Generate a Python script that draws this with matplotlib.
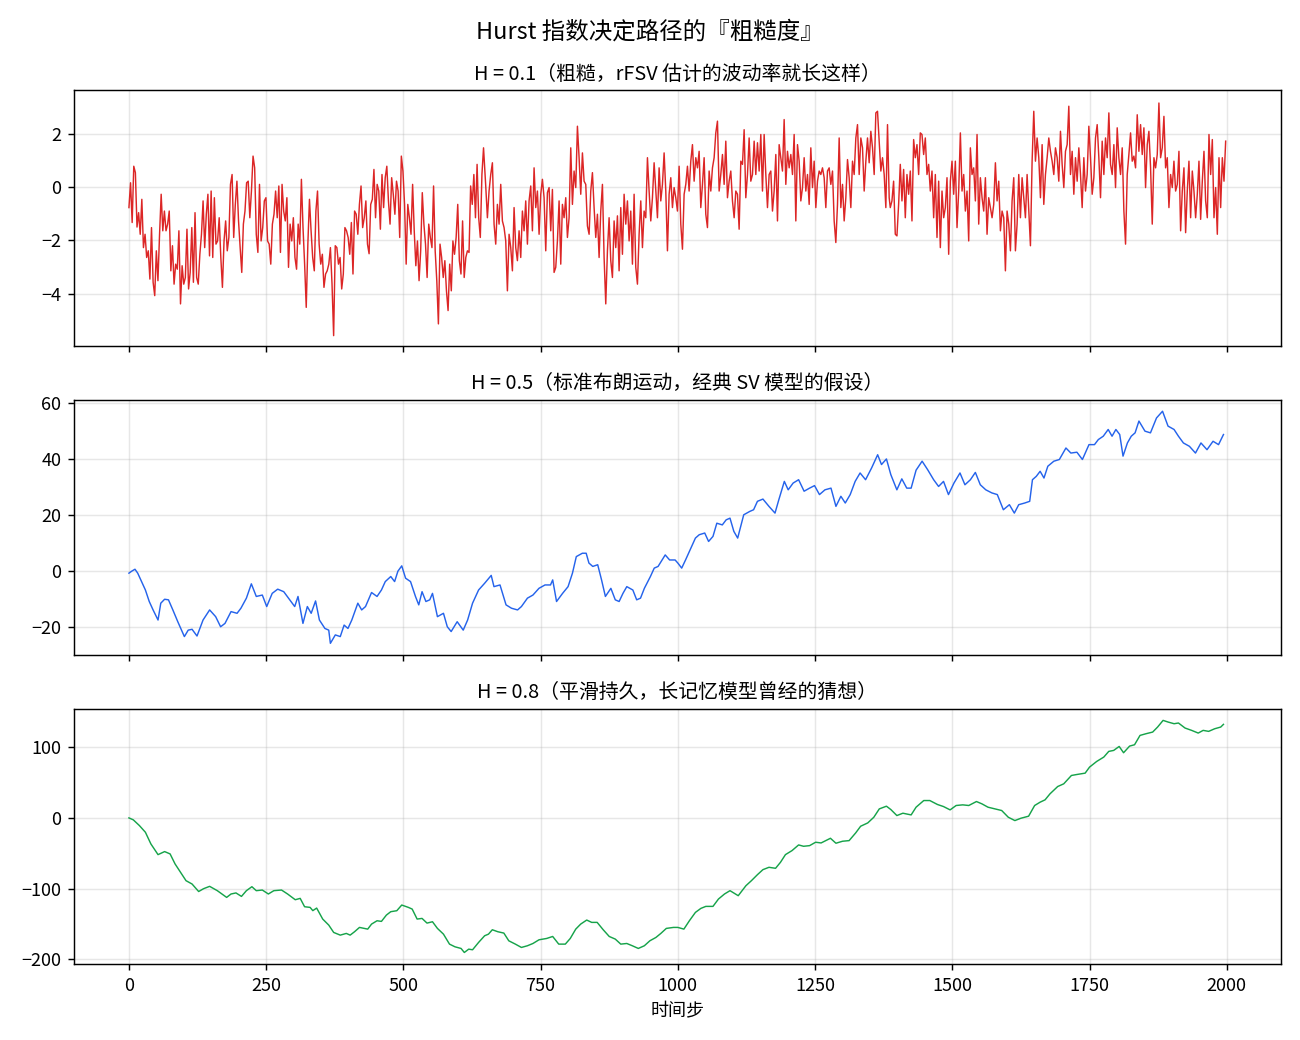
import numpy as np
import matplotlib
matplotlib.use("Agg")
import matplotlib.pyplot as plt

plt.rcParams['font.family'] = ['Noto Sans CJK SC', 'DejaVu Sans']

red_a = [-0.77, 0.16, -1.33, 0.78, 0.54, -1.5, -0.96, -1.77, -0.46, -2.27, -1.77, -2.64, -2.39, -3.45, -1.52,
         -3.57, -4.07, -2.39, -3.51, -1.77, -0.27, -1.64, -0.9, -1.64, -1.39, -0.9, -3.14, -2.2, -3.64, -2.89,
         -3.08, -1.64, -4.38, -2.95, -3.64, -3.39, -1.58, -3.82, -3.2, -1.52, -3.57, -0.96, -3.39, -3.64, -2.52,
         -1.77, -0.52, -2.27, -1.02, -0.27, -2.58, -0.15, -2.64, -0.4, -2.14, -2.02, -1.15, -2.64, -3.76, -2.02,
         -1.27, -2.39, -1.89, 0.1, 0.47, -1.89, -0.65, 0.22, -1.27, -2.27, -3.2, -1.39, -0.9, 0.16, 0.22, -1.15,
         -0.15, 1.16, 0.72, -1.77, -2.45, 0.1, -2.02, -1.52, -0.52, -0.4, -2.02, -2.14, -2.89, -1.39, -1.02,
         -0.15, -1.15, 0.04, -2.45, 0.1, -0.9, -1.27, -0.4, -3.01, -1.39, -2.02, -1.15, -2.64, -3.08, -1.39,
         -2.14, 0.29, -1.52, -2.89, -4.51, -2.14, -0.46, -1.64, -2.64, -3.14, -0.9, -0.15, -2.14, -2.89, -2.52,
         -3.76, -3.26, -3.14, -2.89, -2.27, -3.64, -5.57, -2.2, -2.27, -2.89, -2.64, -3.82, -3.26, -1.52, -1.64,
         -1.89, -2.52, -1.33, -3.26, -0.9, -1.02, -1.77, -0.65, 0.04, -1.52, -1.15, -0.52, -2.14, -2.5, -0.65,
         -0.46, 0.66, -1.15, 0.1, -0.15, -1.58, 0.47, -0.77, 0.35, 0.78, -0.52, -1.39, 0.35, -0.27, -1.02, 0.22,
         -0.15, -1.89, 1.16, 0.6, -0.65, -2.89, -0.65, -1.15, -1.77, 0.1, -1.64, -2.95, -2.02, -3.51, -2.39,
         -0.21, -1.39, -2.14, -3.39, -1.39, -1.89, -2.27, 0.04, -2.39, -3.51, -5.13, -2.14, -2.64, -3.39, -2.76,
         -3.89, -4.63, -2.89, -3.89, -2.02, -2.52, -1.89, -0.65, -2.76, -3.26, -1.27, -3.39, -2.64, -2.39, -2.45,
         0.04, -0.65, 0.47, -1.15, 0.85, -1.15, -1.89, 0.47, 1.47]
red_b = [0.04, -1.15, -0.15, 0.47, 0.91, -1.39, -2.14, -0.65, -1.39, 0.1, -1.27, -1.52, -2.02, -3.89, -1.77,
         -2.27, -3.14, -0.77, -2.27, -2.76, -1.64, -2.64, -0.9, -1.64, -0.52, -2.14, -0.52, 0.04, -1.64, 0.72,
         -0.77, -0.15, -1.77, -0.27, 0.29, -0.4, -2.39, -0.21, -0.02, -1.64, -0.09, -3.2, -3.01, -2.02, -0.52,
         -2.89, -0.65, -1.15, -0.4, -1.89, -1.15, 1.47, -0.65, 0.6, -0.02, 2.28, 1.1, -0.27, 1.28, 0.22, 0.1,
         -1.46, -1.77, -0.15, 0.54, -0.77, -1.89, -1.02, -2.64, -0.9, 0.1, -2.64, -4.38, -2.39, -1.15, -2.76,
         -3.39, -1.27, -2.27, -1.08, -3.14, -0.77, -2.52, -0.27, -1.39, -0.52, -2.02, -0.9, -2.89, -0.27, -3.01,
         -3.64, -1.77, -0.52, -2.27, -0.9, -1.15, 1.1, -0.15, -1.27, -0.4, 0.91, -0.15, -1.15, 0.72, -0.52, 0.1,
         1.28, -0.15, -2.39, -0.27, 0.35, -0.77, -0.02, -0.4, -0.9, 0.78, -1.39, -2.33, -0.27, 0.1, 0.78, -0.15,
         0.97, 1.59, 0.22, 1.1, 0.72, 1.34, -0.77, 0.1, 1.1, -1.02, -1.52, 0.6, -0.15, 0.72, 1.1, 2.03, 2.47,
         -0.15, 0.47, 1.22, 0.1, 1.72, -0.4, 0.22, 0.6, -0.52, -1.15, -0.15, -0.27, -1.58, 0.97, 0.85, 2.15,
         -0.4, 0.47, 1.84, 0.22, 0.47, 1.72, 0.47, 1.66, 0.6, 1.97, -0.15, 1.97, 0.47, -0.77, 0.47, 0.6, -0.9,
         -0.15, 1.22, -1.27, 1.59, 1.1, 0.6, 2.53, 0.1, 1.34, 0.72, 1.22, 0.47, 1.97, -1.27, 1.59, 0.97, -0.52,
         -0.02, 1.1, -0.15, 0.47, -0.65, 1.47, -0.02, 0.97, -0.77, 0.22, 0.6, 0.47, 0.72, 0.35, -0.77, 0.6, 0.72,
         0.1, 0.6, -1.27, -2.08, -0.65, 1.84, -0.77, 0.1, -1.27, -0.4, 1.03, 0.35, -0.77, 0.97, 0.47, 1.84, 2.34,
         0.47, 1.84, 1.47, -0.15, 0.97, 1.84, 0.91, 2.09, 1.47, 0.47, 2.78, 2.84, 1.72, 0.6, 1.1, 0.47, -0.77,
         2.34, -0.4]
red_c = [-0.77, -0.52, 0.22, -1.77, -1.83, -0.65, 0.85, -0.52, 0.66, -1.15, 0.47, -0.27, 0.6, -1.27, 1.78,
         1.1, 1.59, 0.47, 2.03, 1.97, 1.22, 1.84, 0.47, 0.85, -0.15, 0.6, -1.15, 0.47, -1.89, 0.22, -2.27, -0.15,
         -1.15, -0.77, 0.35, -2.52, 0.22, 0.97, -0.27, 0.97, -1.52, -0.15, 2.03, -0.15, 0.47, -0.9, -0.15, -2.02,
         1.47, 0.47, 0.72, -0.52, 1.97, -1.39, 0.35, -0.4, -0.9, 0.35, -1.77, -0.4, -0.77, -1.15, -0.65, 0.91,
         -0.52, 0.22, -1.64, -0.9, -1.15, -3.14, -0.9, -1.39, -2.39, -0.52, 0.35, -2.39, -1.39, 0.47, -1.15, 0.35,
         -0.4, -1.15, 0.47, -0.9, -2.2, 0.97, 2.84, 0.97, 1.84, 1.1, -0.4, 1.59, -0.65, 0.47, 1.1, 1.84, 1.34,
         0.97, 0.47, 1.47, 1.1, 0.22, 2.09, 0.85, -0.02, 1.34, 1.59, 3.03, 0.47, 1.34, -0.27, 1.1, 0.22, 1.47,
         0.47, -0.77, 1.1, -0.15, 0.47, 2.28, 1.1, -0.27, 0.35, 1.84, 2.34, 1.1, -0.4, 1.72, 0.47, 1.84, 1.1,
         2.78, 0.85, 0.47, 1.59, -0.02, 2.22, 1.1, 0.47, 1.47, -0.9, -2.14, 0.47, 1.22, 2.03, 0.97, 1.16, 0.72,
         2.71, 1.34, 2.34, 1.22, 2.22, -0.02, 1.59, 2.09, 0.72, -1.39, 1.1, 0.72, 1.22, 3.15, 1.1, 1.47, 2.65,
         0.72, 1.1, -0.77, 0.47, -0.02, 0.97, -0.15, 0.1, 1.34, -1.64, -0.15, 0.72, -1.71, -0.15, 0.97, -1.15,
         0.6, -0.15, -1.15, -0.27, 0.97, -1.21, 0.22, 1.34, -0.52, -1.15, 1.97, 0.47, 1.78, -1.15, -0.02, -1.77,
         1.1, -0.77, 1.1, 0.22, 1.72]
red_spans = [(0, 646, red_a), (650, 1385, red_b), (1387, 1998, red_c)]

# H = 0.5 path
blue_steps = [0, 5, 11, 16, 23, 30, 37, 44, 53, 58, 65, 72, 80, 89, 101, 108, 115, 124, 135, 147,
              158, 167, 175, 186, 197, 204, 214, 223, 232, 243, 251, 261, 271, 282, 293, 302, 308, 317, 325, 332,
              340, 347, 357, 364, 367, 376, 385, 392, 399, 406, 417, 424, 431, 442, 452, 460, 467, 477, 484, 490,
              497, 504, 513, 522, 528, 534, 541, 548, 553, 562, 573, 580, 587, 598, 609, 617, 626, 637, 648, 660,
              665, 676, 687, 697, 708, 715, 726, 736, 747, 758, 768, 772, 779, 790, 800, 808, 815, 826, 833, 838,
              845, 854, 861, 868, 878, 886, 893, 900, 907, 918, 925, 932, 939, 950, 957, 964, 977, 985, 995, 1000,
              1007, 1014, 1025, 1032, 1039, 1049, 1056, 1064, 1071, 1081, 1088, 1095, 1102, 1109, 1120, 1131, 1138,
              1145, 1155, 1166, 1177, 1184, 1194, 1201, 1210, 1220, 1230, 1240, 1249, 1258, 1268, 1279, 1288, 1297,
              1305, 1314, 1323, 1332, 1342, 1353, 1364, 1371, 1380, 1388, 1399, 1408, 1417, 1425, 1434, 1445, 1455,
              1466, 1475, 1484, 1493, 1503, 1514, 1523, 1533, 1542, 1551, 1561, 1572, 1582, 1593, 1604, 1613, 1621,
              1632, 1641, 1646, 1653, 1660, 1667, 1674, 1685, 1695, 1707, 1716, 1727, 1737, 1749, 1759, 1766, 1775,
              1784, 1791, 1798, 1805, 1811, 1819, 1826, 1833, 1840, 1851, 1861, 1872, 1883, 1893, 1904, 1912, 1921,
              1932, 1943, 1953, 1964, 1975, 1985, 1994]
blue_vals = [-0.7, 0.0, 0.7, -0.7, -3.7, -6.7, -10.8, -13.8, -17.4, -11.4, -10.0, -10.2, -13.8, -18.0, -23.3,
             -21.0, -20.7, -23.1, -17.4, -13.8, -16.2, -19.8, -18.6, -14.4, -15.0, -13.2, -9.6, -4.5, -9.0, -8.5,
             -12.6, -7.9, -6.4, -7.3, -10.2, -12.6, -9.0, -18.6, -12.6, -15.0, -10.6, -17.4, -20.4, -21.0, -25.7,
             -22.7, -23.3, -19.2, -20.4, -17.4, -11.4, -13.8, -12.6, -7.6, -9.0, -6.7, -3.7, -1.9, -3.7, 0.0,
             1.9, -2.5, -3.7, -9.0, -12.0, -7.3, -10.8, -10.2, -7.9, -16.2, -15.0, -19.8, -21.5, -18.0, -21.0,
             -17.4, -11.4, -6.7, -4.3, -1.5, -5.5, -4.9, -12.0, -13.2, -13.8, -12.6, -9.6, -8.5, -6.1, -4.9,
             -4.9, -3.1, -10.8, -7.9, -5.5, -0.7, 5.2, 6.4, 6.4, 2.9, 1.7, 2.3, -3.1, -9.0, -6.1, -10.2, -10.8,
             -7.9, -5.5, -6.7, -10.2, -9.6, -6.1, -1.9, 1.1, 1.7, 5.8, 4.0, 4.0, 2.9,
             1.1, 4.0, 8.8, 11.8, 13.0, 13.6, 10.6, 12.4, 17.1, 16.5, 18.3, 18.9, 14.2, 11.8, 20.1, 21.3, 21.9,
             24.9, 25.7, 23.1, 20.7, 25.5, 32.0, 29.0, 31.4, 32.6, 28.5, 29.6, 30.5, 27.3, 29.0, 29.6, 23.1, 26.7,
             24.3, 27.3, 32.0, 35.0, 32.6, 36.8, 41.5, 38.0, 40.0, 34.4, 29.0, 32.9, 29.6, 29.6, 36.0, 39.2, 36.2,
             32.6, 30.2, 32.0, 27.3, 31.4, 35.0, 30.8, 32.6, 35.2, 30.8, 29.0, 27.9, 27.3, 21.9, 23.7, 20.7, 23.7,
             24.3, 24.9, 32.6, 33.8, 35.6, 33.2, 37.4, 39.2, 39.8, 43.9, 42.1, 42.4, 39.8, 45.1, 45.1, 46.9, 48.1,
             50.5, 48.1, 50.5, 48.7, 41.0, 45.7, 48.1, 49.3, 53.5, 49.9, 49.3, 54.6, 57.0, 51.7, 50.5, 48.1, 45.7,
             44.5, 42.1, 45.7, 43.3, 46.3, 45.1, 48.7]

# H = 0.8 path
green_steps = [0, 8, 19, 30, 40, 53, 65, 75, 84, 94, 104, 115, 127, 136, 147, 161, 178, 186, 195, 205,
               214, 224, 232, 243, 254, 264, 278, 289, 303, 312, 320, 330, 335, 342, 353, 364, 373, 385, 396, 403,
               411, 420, 435, 442, 452, 460, 469, 477, 488, 497, 509, 516, 525, 534, 543, 553, 562, 573, 584, 594,
               605, 611, 619, 626, 637, 648, 655, 662, 672, 683, 692, 704, 715, 726, 736, 747, 761, 772, 783, 795,
               804, 814, 823, 834, 843, 853, 864, 875, 886, 896, 907, 917, 928, 939, 949, 960, 969, 979, 992,
               1000, 1011, 1021, 1032, 1042, 1051, 1064, 1074, 1085, 1095, 1110, 1124, 1134, 1145, 1155, 1166,
               1178, 1187, 1196, 1208, 1220, 1229, 1240, 1251, 1261, 1278, 1288, 1300, 1312, 1324, 1333, 1346,
               1357, 1367, 1380, 1388, 1399, 1410, 1425, 1434, 1448, 1459, 1473, 1484, 1496, 1507, 1519, 1530,
               1544, 1554, 1565, 1578, 1590, 1602, 1614, 1625, 1639, 1650, 1660, 1669, 1678, 1692, 1703, 1717,
               1727, 1742, 1750, 1763, 1776, 1785, 1794, 1804, 1812, 1823, 1832, 1842, 1853, 1865, 1874, 1884,
               1893, 1904, 1912, 1924, 1936, 1948, 1957, 1967, 1978, 1989, 1994]
green_vals = [0, -2.8, -10.8, -20.3, -36.8, -51.9, -47.6, -50.9, -65, -76.9, -88.7, -93.4, -104, -100, -96.7,
              -102.8, -112.3, -107.5, -106, -110.9, -102.8, -97.2, -102.8, -101.9, -107.5, -102.8, -101.9, -107.5,
              -115.6, -113.7, -125.5, -126.4, -131, -127.4, -142.9, -151.4, -161.8, -165.6, -163.2, -165.6,
              -160.8, -154.7, -157.1, -150, -145.3, -146.2, -137.3, -132.5, -131.1, -123.1, -126.4, -128.8,
              -142.9, -142, -148.6, -146.7, -156.1, -164.2, -178.3, -182.1, -184.4, -190.1, -185.4, -186.3,
              -175.9, -166.5, -164.2, -158, -160.8, -162.7, -173.6, -178.3, -183, -180.6, -177.4, -172.2, -170.3,
              -167.5, -178.3, -178.3, -170.3, -157.1, -150, -144.3, -147.6, -147.6, -158, -167.5, -171.2, -178.3,
              -177.4, -180.6, -184.4, -180.6, -173.6, -168.9, -163.2, -156.1, -154.7,
              -154.7, -157.1, -145.3, -133.5, -127.8, -125, -125, -114.6, -107.5, -102.8, -109.9, -95.8, -88.7,
              -80.2, -73.1, -69.8, -71.2, -62.7, -51.9, -46.2, -38.2, -40.1, -39.2, -34.4, -35.4, -28.8, -35.8,
              -33, -32.1, -21.2, -11.8, -7.1, 0.9, 12.7, 16.5, 11.8, 3.3, 6.6, 4.2, 15.1, 24.5, 24.5, 18.9, 16,
              11.3, 17.5, 18.4, 17.5, 23.1, 19.8, 15.1, 12.7, 10.4, 0.9, -3.8, -0.5, 2.4, 17.5, 22.2, 25.5, 34,
              44.3, 48.1, 59.9, 61.3, 63.2, 71.7, 79.7, 85.9, 93.9, 95.3, 100.9, 92, 101.4, 103.3, 116.5, 118.9,
              121.2, 128.3, 137.7, 135.4, 133, 134, 126.9, 123.6, 119.8, 123.6, 122.2, 125.9, 128.3, 132.1]

titles = ["H = 0.1（粗糙，rFSV 估计的波动率就长这样）",
          "H = 0.5（标准布朗运动，经典 SV 模型的假设）",
          "H = 0.8（平滑持久，长记忆模型曾经的猜想）"]
colors = ["#dc2626", "#2563eb", "#16a34a"]

red_x = np.concatenate([np.linspace(a, b, len(v)) for a, b, v in red_spans])
red_y = np.concatenate([v for a, b, v in red_spans])

fig, axes = plt.subplots(3, 1, figsize=(10, 8), dpi=130, sharex=True)
series = [(red_x, red_y), (blue_steps, blue_vals), (green_steps, green_vals)]
for ax, (x, y), t, c in zip(axes, series, titles, colors):
    ax.plot(x, y, color=c, lw=0.8)
    ax.set_title(t, fontsize=11)
    ax.grid(True, alpha=0.3)
axes[0].set_ylim(-5.95, 3.62)
axes[-1].set_xlabel("时间步")
fig.suptitle("Hurst 指数决定路径的『粗糙度』", fontsize=13)
fig.subplots_adjust(left=0.057, right=0.985, top=0.913, bottom=0.073, hspace=0.211)
fig.savefig("out.png")
